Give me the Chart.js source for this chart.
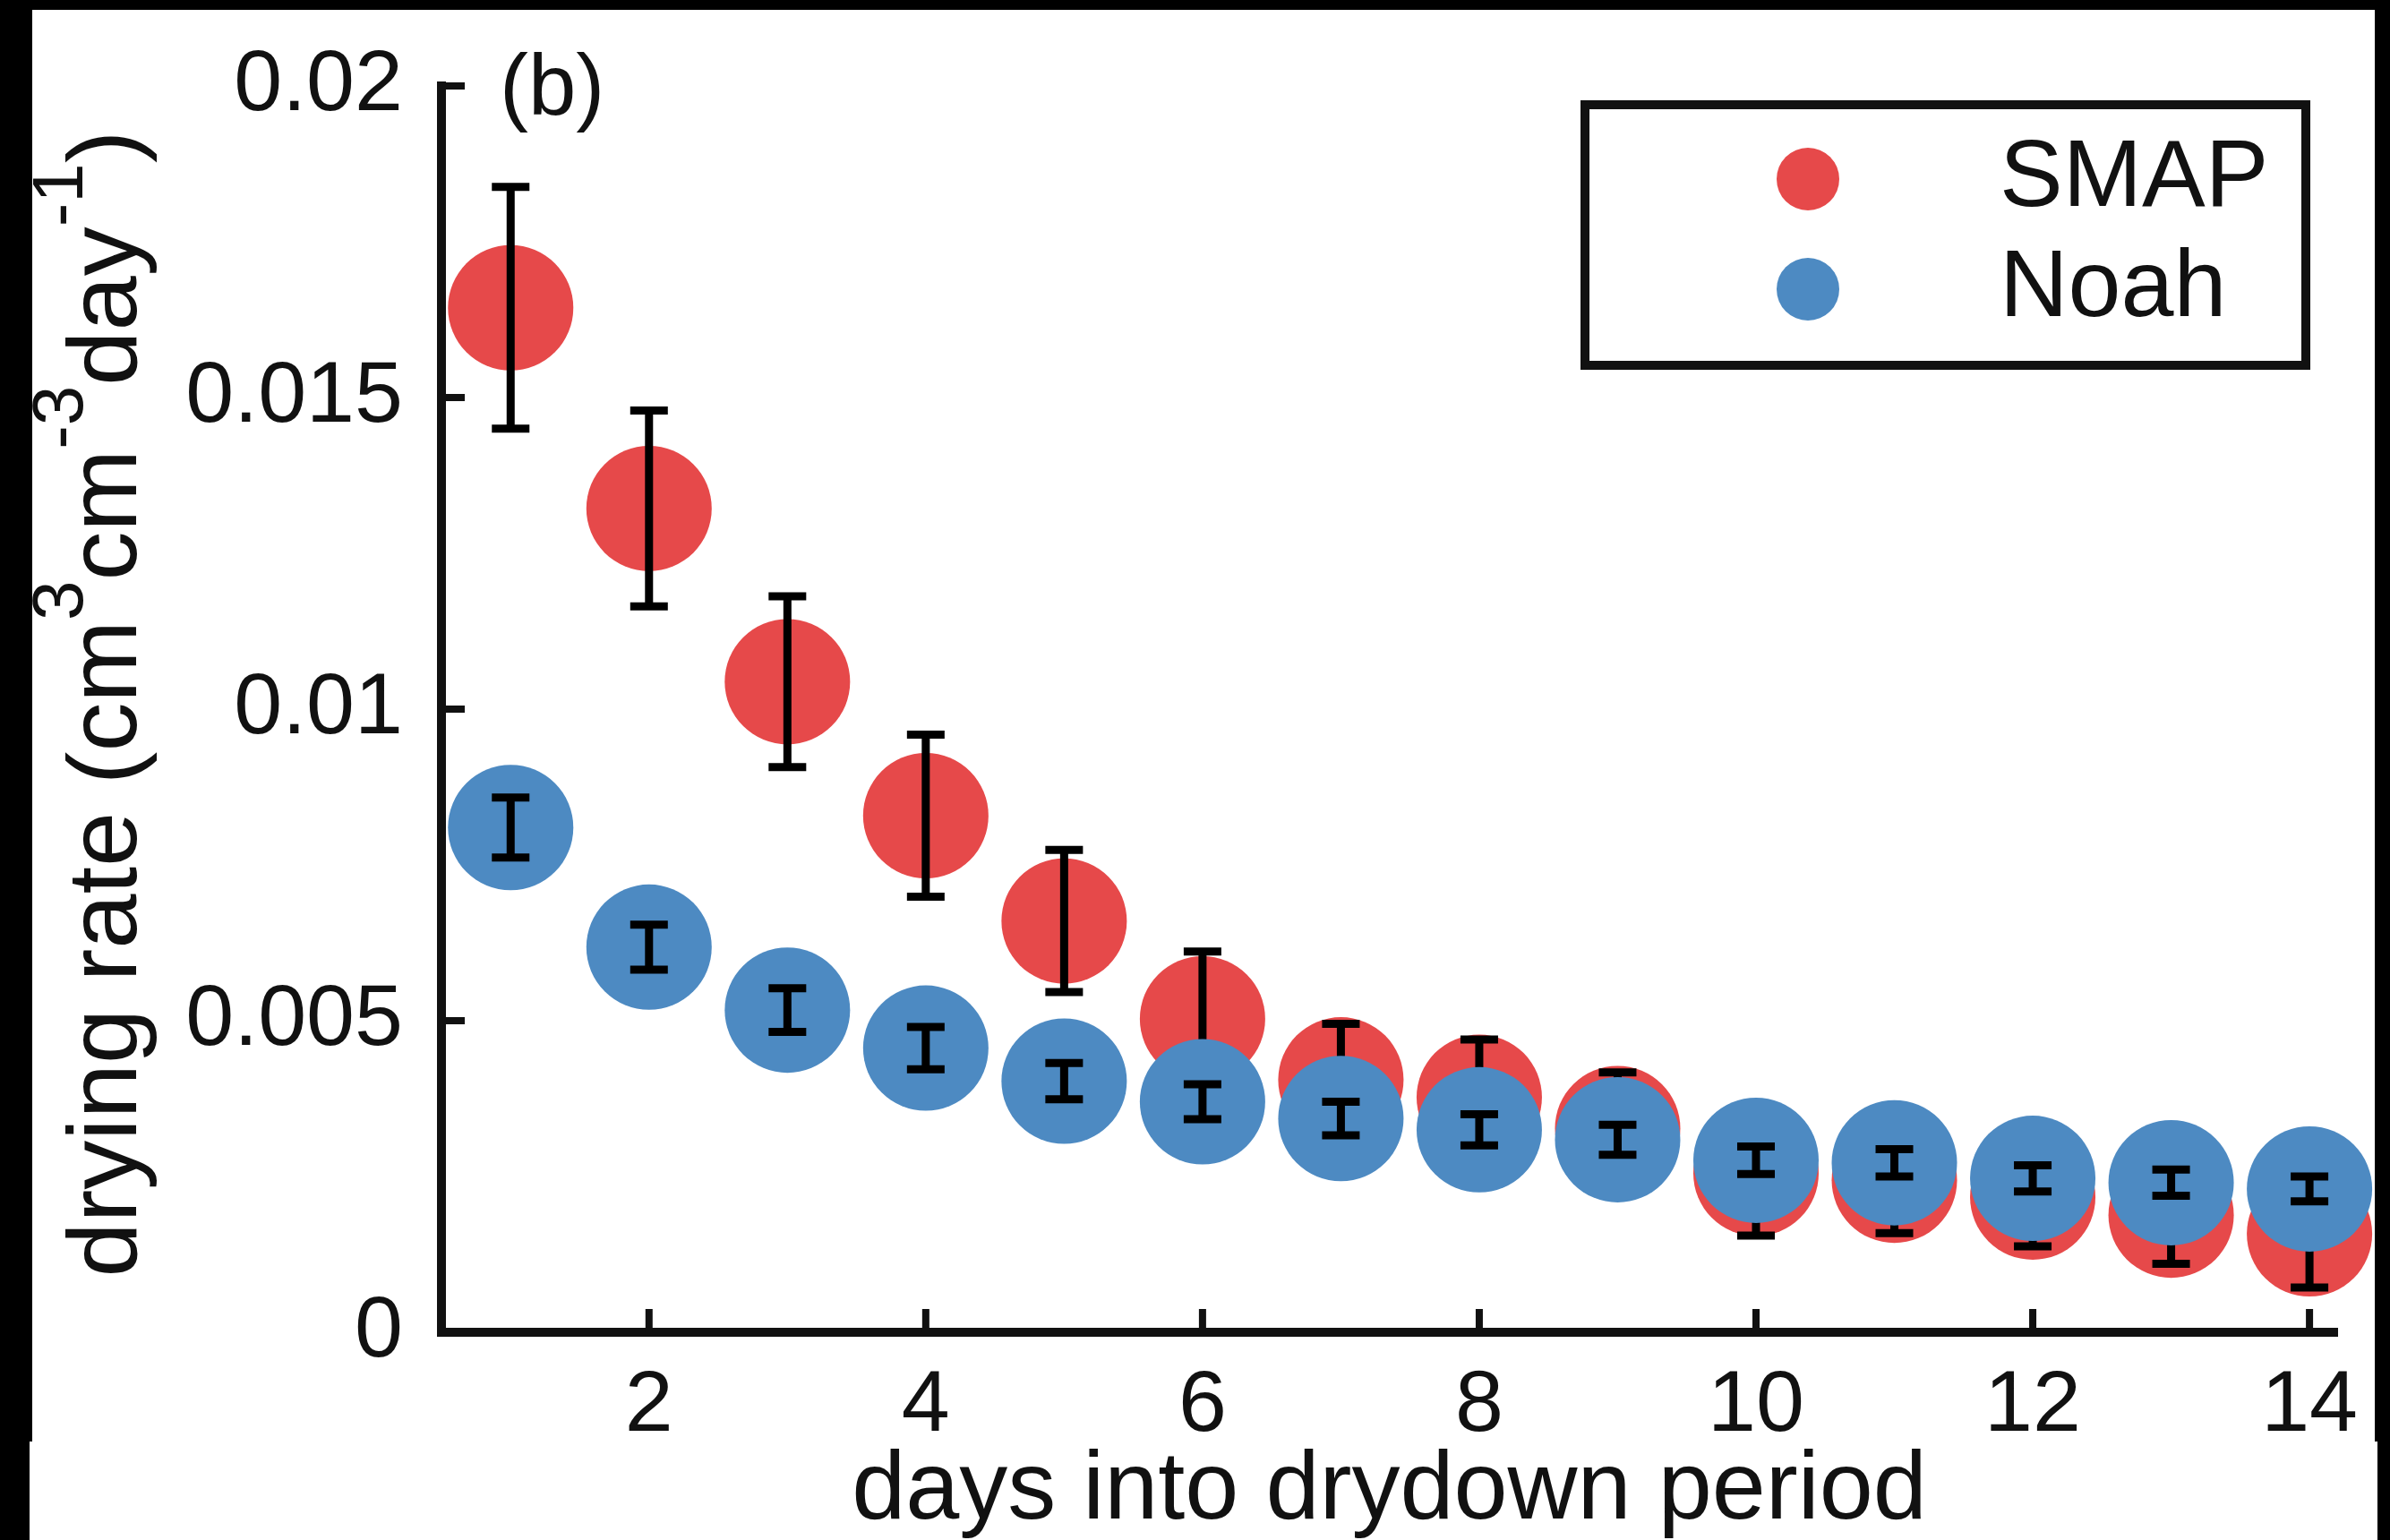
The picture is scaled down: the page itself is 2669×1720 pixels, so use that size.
<!DOCTYPE html>
<html>
<head>
<meta charset="utf-8">
<title>Drying rate during drydown</title>
<script src="https://cdn.jsdelivr.net/npm/chart.js@4.4.1/dist/chart.umd.min.js"></script>
<style>
  html, body { margin: 0; padding: 0; background: #000; }
  body { width: 2669px; height: 1720px; position: relative; overflow: hidden; }
  .sheet { position: absolute; background: #fff; }
  #chart { position: absolute; left: 0; top: 0; }
</style>
</head>
<body>
<div class="sheet" style="left:36px;top:11px;width:2616px;height:1709px"></div>
<div class="sheet" style="left:33px;top:1610px;width:2622px;height:110px"></div>
<canvas id="chart" width="2669" height="1720"></canvas>
<script>
    "use strict";

    // days since the start of the drydown
    const days = [1, 2, 3, 4, 5, 6, 7, 8, 9, 10, 11, 12, 13, 14];

    // SMAP mean drying rate and error half-width
    const smapRate = [0.01644, 0.01322, 0.01044, 0.00829, 0.00660, 0.00503, 0.00405,
                      0.00377, 0.00327, 0.00255, 0.00244, 0.00217, 0.00188, 0.00158];
    const smapErr  = [0.00194, 0.00157, 0.00137, 0.00130, 0.00114, 0.00108, 0.00090,
                      0.00093, 0.00090, 0.00100, 0.00085, 0.00079, 0.00078, 0.00086];

    // Noah mean drying rate and error half-width
    const noahRate = [0.00810, 0.00618, 0.00517, 0.00456, 0.00403, 0.00370, 0.00343,
                      0.00325, 0.00309, 0.00276, 0.00272, 0.00247, 0.00240, 0.00230];
    const noahErr  = [0.00048, 0.00036, 0.00035, 0.00034, 0.00029, 0.00028, 0.00027,
                      0.00025, 0.00024, 0.00022, 0.00022, 0.00021, 0.00021, 0.00020];

    const dayTicks  = [2, 4, 6, 8, 10, 12, 14];
    const rateTicks = [0, 0.005, 0.01, 0.015, 0.02];

    const FONT = "'Liberation Sans', Arial, Helvetica, sans-serif";
    const INK = '#111';
    const RED = '#e6494a';
    const BLUE = '#4d8ac2';

    const toPoints = (ys) => days.map((d, i) => ({ x: d, y: ys[i] }));

    // tick marks pointing into the plot
    const innerTicks = {
        id: 'innerTicks',
        beforeDatasetsDraw(chart) {
            const { ctx, chartArea: a, scales: { x, y } } = chart;
            ctx.save();
            ctx.strokeStyle = INK;
            ctx.lineWidth = 8;
            ctx.beginPath();
            dayTicks.forEach(v => {
                const px = x.getPixelForValue(v);
                ctx.moveTo(px, a.bottom);
                ctx.lineTo(px, a.bottom - 26);
            });
            rateTicks.forEach(v => {
                const py = y.getPixelForValue(v);
                ctx.moveTo(a.left, py);
                ctx.lineTo(a.left + 26, py);
            });
            ctx.stroke();
            ctx.restore();
        }
    };

    // vertical error bars with caps, drawn right after their own dataset
    const errorBars = {
        id: 'errorBars',
        afterDatasetDraw(chart, args) {
            const ds = chart.data.datasets[args.index];
            if (!ds.errors) return;
            const { ctx, scales: { x, y } } = chart;
            ctx.save();
            ctx.strokeStyle = '#000';
            ctx.lineWidth = 9;
            ds.data.forEach((p, i) => {
                const px = x.getPixelForValue(p.x);
                const top = y.getPixelForValue(p.y + ds.errors[i]);
                const bot = y.getPixelForValue(p.y - ds.errors[i]);
                ctx.beginPath();
                ctx.moveTo(px, top);
                ctx.lineTo(px, bot);
                ctx.moveTo(px - 21, top);
                ctx.lineTo(px + 21, top);
                ctx.moveTo(px - 21, bot);
                ctx.lineTo(px + 21, bot);
                ctx.stroke();
            });
            ctx.restore();
        }
    };

    // y title with superscripts, panel letter and boxed legend
    const decorations = {
        id: 'decorations',
        afterDraw(chart) {
            const { ctx, chartArea: a } = chart;
            const size = 110;
            const sup = 80;
            const runs = [['drying rate (cm', 0], ['3', 1], ['cm', 0], ['-3', 1],
                          ['day', 0], ['-1', 1], [')', 0]];
            const fontOf = s => (s ? sup : size) + 'px ' + FONT;

            ctx.save();
            ctx.fillStyle = INK;
            ctx.textAlign = 'left';
            ctx.textBaseline = 'alphabetic';
            ctx.translate(152, (a.top + a.bottom) / 2 - 6);
            ctx.rotate(-Math.PI / 2);
            let total = 0;
            runs.forEach(([t, s]) => { ctx.font = fontOf(s); total += ctx.measureText(t).width; });
            let cx = -total / 2;
            runs.forEach(([t, s]) => {
                ctx.font = fontOf(s);
                ctx.fillText(t, cx, s ? -0.55 * size : 0);
                cx += ctx.measureText(t).width;
            });
            ctx.restore();

            ctx.save();
            ctx.fillStyle = INK;
            ctx.font = '96px ' + FONT;
            ctx.textBaseline = 'alphabetic';
            ctx.fillText('(b)', a.left + 65, a.top + 32);
            ctx.restore();

            // legend
            ctx.save();
            ctx.fillStyle = '#fff';
            ctx.fillRect(1770, 117, 805, 291);
            ctx.strokeStyle = INK;
            ctx.lineWidth = 10;
            ctx.strokeRect(1770, 117, 805, 291);
            ctx.font = '106px ' + FONT;
            chart.data.datasets.forEach((ds, i) => {
                const cy = 200 + i * 123;
                ctx.fillStyle = ds.backgroundColor;
                ctx.beginPath();
                ctx.arc(2019, cy, 35, 0, Math.PI * 2);
                ctx.fill();
                ctx.fillStyle = INK;
                ctx.fillText(ds.label, 2233, cy + 30);
            });
            ctx.restore();
        }
    };

    new Chart(document.getElementById('chart'), {
        type: 'scatter',
        data: {
            datasets: [
                {
                    label: 'SMAP',
                    data: toPoints(smapRate),
                    errors: smapErr,
                    backgroundColor: RED,
                    pointRadius: 70,
                    pointHoverRadius: 70,
                    pointBorderWidth: 0,
                    clip: false,
                    order: 1
                },
                {
                    label: 'Noah',
                    data: toPoints(noahRate),
                    errors: noahErr,
                    backgroundColor: BLUE,
                    pointRadius: 70,
                    pointHoverRadius: 70,
                    pointBorderWidth: 0,
                    clip: false,
                    order: 0
                }
            ]
        },
        options: {
            responsive: false,
            animation: false,
            devicePixelRatio: 1,
            layout: {
                autoPadding: false,
                padding: { top: 96, right: 59, left: 0, bottom: 0 }
            },
            plugins: {
                legend: { display: false },
                tooltip: { enabled: false }
            },
            scales: {
                x: {
                    type: 'linear',
                    min: 0.5,
                    max: 14.2,
                    afterBuildTicks: s => { s.ticks = dayTicks.map(v => ({ value: v })); },
                    afterFit: s => {
                        s.height = 232;
                        s.paddingLeft = 0;
                        s.paddingRight = 0;
                    },
                    grid: { display: false, drawTicks: false },
                    border: { display: true, color: INK, width: 10 },
                    ticks: {
                        color: INK,
                        autoSkip: false,
                        maxRotation: 0,
                        padding: 25,
                        font: { family: FONT, size: 97, lineHeight: 1.2 }
                    },
                    title: {
                        display: true,
                        text: 'days into drydown period',
                        color: INK,
                        padding: 0,
                        font: { family: FONT, size: 108, lineHeight: 1 }
                    }
                },
                y: {
                    type: 'linear',
                    min: 0,
                    max: 0.02,
                    afterBuildTicks: s => { s.ticks = rateTicks.map(v => ({ value: v })); },
                    afterFit: s => {
                        s.width = 493;
                        s.paddingTop = 0;
                        s.paddingBottom = 0;
                    },
                    grid: { display: false, drawTicks: false },
                    border: { display: true, color: INK, width: 10 },
                    ticks: {
                        color: INK,
                        padding: 43,
                        callback: v => String(v),
                        font: { family: FONT, size: 97, lineHeight: 1.2 }
                    }
                }
            }
        },
        plugins: [innerTicks, errorBars, decorations]
    });
</script>
</body>
</html>
